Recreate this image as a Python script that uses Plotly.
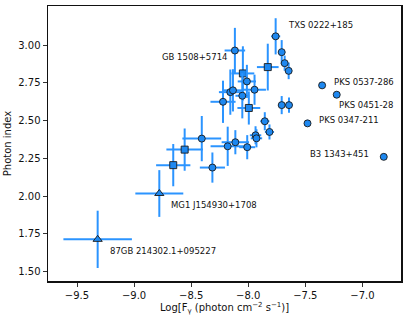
import plotly.graph_objects as go

# Circles
circ_x = [-8.407, -8.314, -8.221, -8.180, -8.117, -8.113, -8.157, -8.134, -8.052, -8.012,
          -7.945, -7.760, -7.707, -7.681, -7.646, -7.707, -7.643, -7.855, -7.814, -7.936,
          -7.928, -8.009, -7.481, -7.353, -7.225, -6.813]
circ_y = [2.381, 2.189, 2.625, 2.330, 2.965, 2.357, 2.689, 2.701, 2.665, 2.760,
          2.705, 3.059, 2.954, 2.881, 2.830, 2.603, 2.603, 2.496, 2.425, 2.403,
          2.383, 2.324, 2.482, 2.734, 2.672, 2.260]
circ_xerr = [0.17, 0.11, 0.11, 0.15, 0.09, 0.12, 0.10, 0.08, 0.06, 0.08,
             0.10, 0.04, 0.03, 0.03, 0.03, 0.03, 0.03, 0.04, 0.04, 0.05,
             0.05, 0.07, 0.01, 0.01, 0.01, 0.01]
circ_yerr = [0.15, 0.10, 0.14, 0.13, 0.15, 0.08, 0.15, 0.14, 0.15, 0.11,
             0.10, 0.12, 0.08, 0.05, 0.055, 0.06, 0.05, 0.06, 0.05, 0.06,
             0.06, 0.08, 0.02, 0.02, 0.02, 0.02]

# Squares
sq_x = [-8.657, -8.557, -8.047, -7.829, -7.995]
sq_y = [2.205, 2.308, 2.813, 2.855, 2.584]
sq_xerr = [0.15, 0.16, 0.10, 0.095, 0.10]
sq_yerr = [0.14, 0.14, 0.18, 0.155, 0.11]

# Triangles
tri_x = [-9.319, -8.779]
tri_y = [1.713, 2.017]
tri_xerr = [0.30, 0.21]
tri_yerr = [0.19, 0.155]

# Source labels
label_text = ["TXS 0222+185", "GB 1508+5714", "PKS 0537-286", "PKS 0451-28",
              "PKS 0347-211", "B3 1343+451", "MG1 J154930+1708", "87GB 214302.1+095227"]
label_x = [-7.672, -8.163, -7.268, -7.222, -7.402, -6.923, -8.694, -9.232]
label_y = [3.132, 2.925, 2.753, 2.605, 2.504, 2.278, 1.938, 1.634]
label_anchor = ["left", "right", "left", "left", "left", "right", "left", "left"]

x_ticks = [-9.5, -9.0, -8.5, -8.0, -7.5, -7.0]
x_ticklabels = ["−9.5", "−9.0", "−8.5", "−8.0", "−7.5", "−7.0"]
y_ticks = [1.50, 1.75, 2.00, 2.25, 2.50, 2.75, 3.00]
y_ticklabels = ["1.50", "1.75", "2.00", "2.25", "2.50", "2.75", "3.00"]

BAR = "#2b94ff"
FILL = "#1e88f0"


def add_series(fig, xs, ys, xe, ye, symbol, size):
    fig.add_trace(go.Scatter(
        x=xs, y=ys, mode="markers",
        marker=dict(symbol=symbol, size=size, color=FILL,
                    line=dict(color="#1a1a1a", width=0.9)),
        error_x=dict(type="data", array=xe, visible=True, color=BAR, thickness=2, width=0),
        error_y=dict(type="data", array=ye, visible=True, color=BAR, thickness=2, width=0),
        showlegend=False, hoverinfo="skip",
    ))


fig = go.Figure()
add_series(fig, tri_x, tri_y, tri_xerr, tri_yerr, "triangle-up", 8)
add_series(fig, sq_x, sq_y, sq_xerr, sq_yerr, "square", 7)
add_series(fig, circ_x, circ_y, circ_xerr, circ_yerr, "circle", 7)

for t, x, y, a in zip(label_text, label_x, label_y, label_anchor):
    fig.add_annotation(x=x, y=y, xref="x", yref="y", text=t, showarrow=False,
                       xanchor=a, yanchor="middle",
                       font=dict(family="DejaVu Sans", size=8.5, color="#111111"))

axis_common = dict(showgrid=False, zeroline=False, showline=True, linecolor="#111111",
                   linewidth=1.5, mirror=True, ticks="outside", ticklen=4, tickwidth=1,
                   tickcolor="#333333",
                   tickfont=dict(family="DejaVu Sans", size=10, color="#111111"))

fig.update_layout(
    width=407, height=318,
    margin=dict(l=48, r=4, t=5, b=37),
    paper_bgcolor="white", plot_bgcolor="white",
    font=dict(family="DejaVu Sans", color="#111111"),
    xaxis=dict(range=[-9.754, -6.662], tickvals=x_ticks, ticktext=x_ticklabels,
               title=dict(text="Log[F<sub>γ</sub> (photon cm<sup>−2</sup> s<sup>−1</sup>)]",
                          font=dict(family="DejaVu Sans", size=10), standoff=4),
               **axis_common),
    yaxis=dict(range=[1.437, 3.26], tickvals=y_ticks, ticktext=y_ticklabels,
               title=dict(text="Photon index", font=dict(family="DejaVu Sans", size=10),
                          standoff=4),
               **axis_common),
)

fig.write_html("out.html",
               config={"displayModeBar": False, "staticPlot": True},
               post_script="document.body.style.margin='0';document.body.style.overflow='hidden';")
